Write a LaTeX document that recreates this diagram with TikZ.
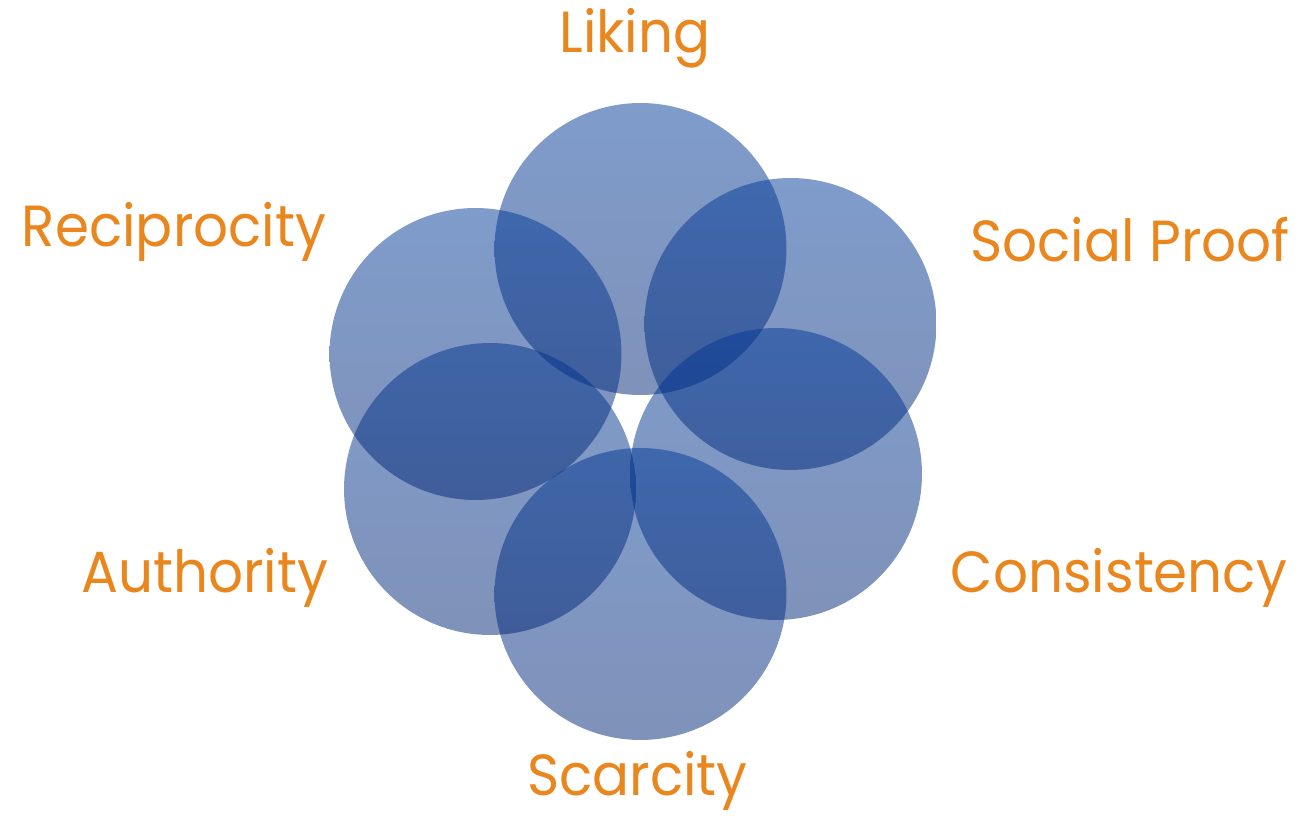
\documentclass[tikz,border=0pt]{standalone}
\usepackage{fontspec}
\setmainfont[FakeStretch=0.945]{Poppins}
\definecolor{disctop}{RGB}{0,57,151}
\definecolor{discbottom}{RGB}{0,37,115}
\definecolor{textorange}{HTML}{EA861E}
\begin{document}
\begin{tikzpicture}[
 x=0.02cm, y=-0.02cm,
 disc/.style={circle,minimum size=5.84cm,inner sep=0pt,shade,top color=disctop,bottom color=discbottom,fill opacity=0.5},
 principle/.style={anchor=base,inner sep=0pt,text=textorange,font=\fontsize{33}{40}\selectfont}
]
\useasboundingbox (0,0) rectangle (1303,817);
\node (liking-disc) [disc] at (640.5,249) {};
\node (socialproof-disc) [disc] at (790.5,324) {};
\node (consistency-disc) [disc] at (776,474) {};
\node (scarcity-disc) [disc] at (640.5,594) {};
\node (authority-disc) [disc] at (490,489) {};
\node (reciprocity-disc) [disc] at (475.5,354) {};
\node (liking-text) [principle] at (635,53) {Liking};
\node (socialproof-text) [principle] at (1130,262) {Social Proof};
\node (consistency-text) [principle] at (1119,593) {Consistency};
\node (scarcity-text) [principle] at (637.5,796) {Scarcity};
\node (authority-text) [principle] at (204.5,593) {Authority};
\node (reciprocity-text) [principle] at (174,247) {Reciprocity};
\end{tikzpicture}
\end{document}
